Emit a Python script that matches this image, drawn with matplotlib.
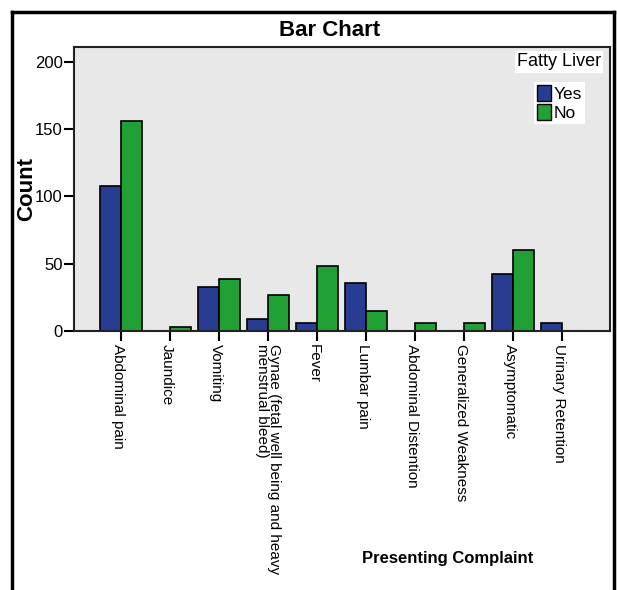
import matplotlib
matplotlib.use("Agg")
import matplotlib.pyplot as plt
import matplotlib.transforms as mtransforms
import numpy as np
from matplotlib.lines import Line2D
from matplotlib.patches import Patch

categories = ["Abdominal pain", "Jaundice", "Vomiting",
              "Gynae (fetal well being and heavy\nmenstrual bleed)", "Fever",
              "Lumbar pain", "Abdominal Distention", "Generalized Weakness",
              "Asymptomatic", "Urinary Retention"]
yes_vals = [108, 0, 33, 9, 6, 36, 0, 0, 42, 6]
no_vals = [156, 3, 39, 27, 48, 15, 6, 6, 60, 0]
series_names = ["Yes", "No"]
yticks = [0, 50, 100, 150, 200]

plt.rcParams['font.family'] = ['Liberation Sans', 'DejaVu Sans']

W, H = 617, 590
fig = plt.figure(figsize=(W / 100, H / 100), dpi=100)
ax = fig.add_axes([74 / W, 1 - 331 / H, (610 - 74) / W, (331 - 47) / H])
ax.set_facecolor('#e8e8e8')

blue = '#283c92'
green = '#20a035'
x = np.arange(len(categories))
bw = 0.43
ax.bar(x - bw / 2, yes_vals, bw, color=blue, edgecolor='black', linewidth=1.2, label=series_names[0])
ax.bar(x + bw / 2, no_vals, bw, color=green, edgecolor='black', linewidth=1.2, label=series_names[1])

ax.set_xlim(-0.95, 9.98)
ax.set_ylim(0, 211)
ax.set_yticks(yticks)
ax.set_yticklabels([str(v) for v in yticks], fontsize=12)
ax.set_xticks(x)
ax.set_xticklabels(categories, rotation=-90, fontsize=11, ha='center', va='top',
                   multialignment='left', linespacing=0.85)
ax.tick_params(axis='both', direction='out', length=7, width=1.5, color='black')
ax.tick_params(axis='x', pad=2)
ax.tick_params(axis='y', pad=1)
for s in ax.spines.values():
    s.set_linewidth(1.5)
    s.set_color('#222222')

# single-line labels sit slightly left of their tick in the reference
shift = mtransforms.ScaledTranslation(-3 / 100, 0, fig.dpi_scale_trans)
for lbl in ax.get_xticklabels():
    if "\n" not in lbl.get_text():
        lbl.set_transform(lbl.get_transform() + shift)

ax.set_ylabel("Count", fontsize=16, fontweight='bold')
ax.yaxis.set_label_coords((37 - 74) / (610 - 74), (331 - 189) / (331 - 47))
fig.text(330 / W, 1 - 31 / H, "Bar Chart", fontsize=16, fontweight='bold', ha='center', va='center')
fig.text(448 / W, 1 - 558 / H, "Presenting Complaint", fontsize=12, fontweight='bold', ha='center', va='center')

# legend
fig.text(559 / W, 1 - 62 / H, "Fatty Liver", fontsize=13, ha='center', va='center',
         bbox=dict(facecolor='white', edgecolor='none', pad=1.5))
handles = [Patch(facecolor=blue, edgecolor='black', linewidth=1.0),
           Patch(facecolor=green, edgecolor='black', linewidth=1.0)]
leg = ax.legend(handles, series_names, loc='upper left',
                bbox_to_anchor=((534 - 74) / (610 - 74), (331 - 82) / (331 - 47)),
                frameon=True, fancybox=False, fontsize=12.5, handlelength=0.85, handleheight=1.05,
                handletextpad=0.15, borderpad=0.15, labelspacing=0.15, borderaxespad=0)
leg.get_frame().set_facecolor('white')
leg.get_frame().set_edgecolor('none')
leg.get_frame().set_alpha(1)

# outer border (open at bottom)
for xs, ys in [([12, 12], [12, H]), ([12, 614], [12, 12]), ([614, 614], [12, H])]:
    fig.add_artist(Line2D([v / W for v in xs], [1 - v / H for v in ys], color='black', linewidth=2.5,
                          transform=fig.transFigure))

fig.savefig("out.png", dpi=100)
